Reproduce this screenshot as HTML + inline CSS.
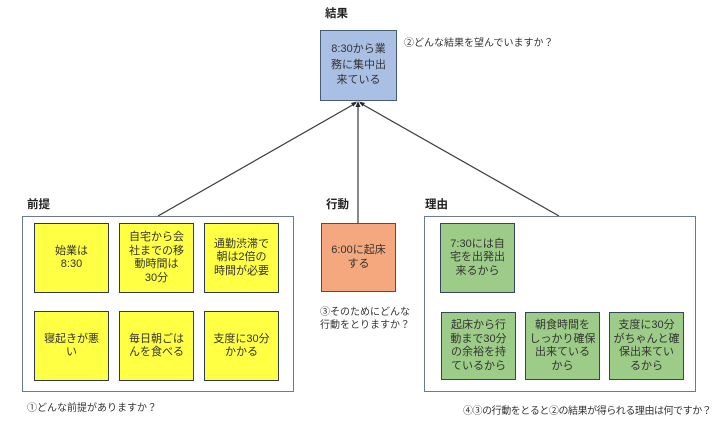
<!DOCTYPE html>
<html><head><meta charset="utf-8">
<style>
html,body{margin:0;padding:0;background:#fff;}
body{width:714px;height:427px;position:relative;overflow:hidden;font-family:"Liberation Sans","Noto Sans CJK JP",sans-serif;color:#333;}
.a{position:absolute;}
.lbl{position:absolute;font-size:11.5px;font-weight:bold;color:#222;line-height:14px;}
.big{position:absolute;border:1px solid #6a7a90;box-sizing:border-box;background:#fff;}
.bx{position:absolute;box-sizing:border-box;display:flex;align-items:center;justify-content:center;text-align:center;font-size:11px;line-height:13.5px;color:#333;}
.y{background:#ffff44;border:1.5px solid #2e3a55;}
.g{background:#9dcb88;border:1.5px solid #34465c;}
.o{background:#f5a77e;border:1.5px solid #4a5060;}
.b{background:#a9bfe3;border:1.5px solid #475a78;line-height:15.5px;}
.t{position:absolute;font-size:10px;line-height:12.5px;color:#333;white-space:nowrap;}
</style></head><body>

<svg class="a" style="left:0;top:0" width="714" height="427">
  <g stroke="#3a3a3a" stroke-width="1.2" fill="none">
    <line x1="356" y1="103" x2="158" y2="216"/>
    <line x1="360" y1="103" x2="559" y2="216"/>
    <line x1="358" y1="104" x2="358" y2="223"/>
  </g>
  <g fill="#2a2a2a">
    <polygon points="358,101 355.5,107 360.5,107"/>
    <polygon points="357,101.5 351,103 353.5,106.5"/>
    <polygon points="359,101.5 365,103 362.5,106.5"/>
  </g>
</svg>

<div class="lbl" style="left:325px;top:7px;">結果</div>
<div class="bx b" style="left:320px;top:30px;width:77px;height:71px;">8:30から業<br>務に集中出<br>来ている</div>
<div class="t" style="left:404px;top:38px;">②どんな結果を望んでいますか？</div>

<div class="lbl" style="left:27px;top:198px;">前提</div>
<div class="big" style="left:22px;top:216px;width:272px;height:176px;"></div>
<div class="bx y" style="left:34px;top:223px;width:75px;height:70px;">始業は<br>8:30</div>
<div class="bx y" style="left:119px;top:223px;width:75px;height:70px;">自宅から会<br>社までの移<br>動時間は<br>30分</div>
<div class="bx y" style="left:204px;top:223px;width:75px;height:70px;">通勤渋滞で<br>朝は2倍の<br>時間が必要</div>
<div class="bx y" style="left:34px;top:311px;width:75px;height:70px;">寝起きが悪<br>い</div>
<div class="bx y" style="left:119px;top:311px;width:75px;height:70px;">毎日朝ごは<br>んを食べる</div>
<div class="bx y" style="left:204px;top:311px;width:75px;height:70px;">支度に30分<br>かかる</div>
<div class="t" style="left:27px;top:403px;">①どんな前提がありますか？</div>

<div class="lbl" style="left:326px;top:198px;">行動</div>
<div class="bx o" style="left:321px;top:223px;width:75px;height:69px;">6:00に起床<br>する</div>
<div class="t" style="left:320px;top:307px;">③そのためにどんな<br>行動をとりますか？</div>

<div class="lbl" style="left:425px;top:198px;">理由</div>
<div class="big" style="left:424px;top:216px;width:272px;height:176px;"></div>
<div class="bx g" style="left:440px;top:223px;width:75px;height:70px;">7:30には自<br>宅を出発出<br>来るから</div>
<div class="bx g" style="left:441px;top:312px;width:75px;height:68px;">起床から行<br>動まで30分<br>の余裕を持<br>ているから</div>
<div class="bx g" style="left:525px;top:312px;width:75px;height:68px;">朝食時間を<br>しっかり確保<br>出来ている<br>から</div>
<div class="bx g" style="left:609px;top:312px;width:75px;height:68px;">支度に30分<br>がちゃんと確<br>保出来てい<br>るから</div>
<div class="t" style="left:463px;top:406px;letter-spacing:-0.45px;">④③の行動をとると②の結果が得られる理由は何ですか？</div>

</body></html>
